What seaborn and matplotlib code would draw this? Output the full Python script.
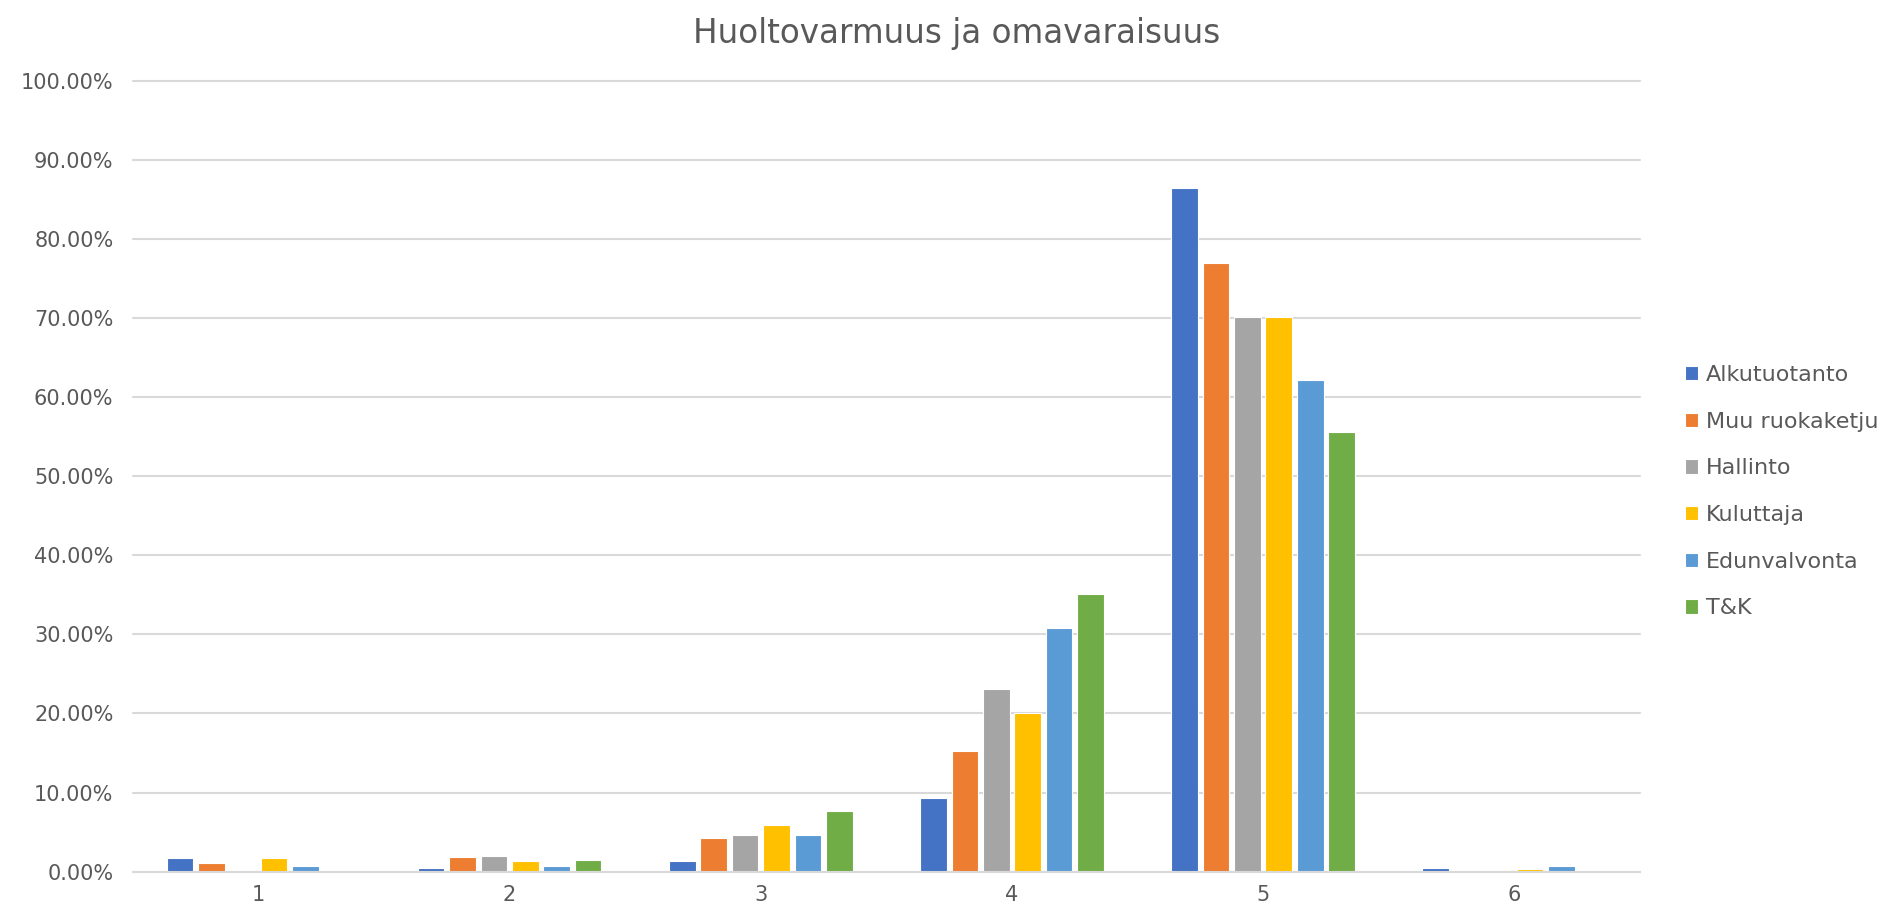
import numpy as np
import pandas as pd
import matplotlib
matplotlib.use("Agg")
import matplotlib.pyplot as plt
import seaborn as sns

categories = ["1", "2", "3", "4", "5", "6"]
series = ["Alkutuotanto", "Muu ruokaketju", "Hallinto", "Kuluttaja", "Edunvalvonta", "T&K"]

alkutuotanto = [0.017, 0.004, 0.014, 0.093, 0.864, 0.004]
muu_ruokaketju = [0.011, 0.018, 0.043, 0.152, 0.770, 0.002]
hallinto = [0.0, 0.020, 0.046, 0.231, 0.701, 0.0]
kuluttaja = [0.017, 0.014, 0.059, 0.201, 0.701, 0.003]
edunvalvonta = [0.007, 0.007, 0.046, 0.308, 0.622, 0.007]
tk = [0.0, 0.015, 0.076, 0.351, 0.556, 0.0]

colors = ["#4472C4", "#ED7D31", "#A5A5A5", "#FFC000", "#5B9BD5", "#70AD47"]
grey = "#595959"

values = [alkutuotanto, muu_ruokaketju, hallinto, kuluttaja, edunvalvonta, tk]
rows = []
for name, vals in zip(series, values):
    for c, v in zip(categories, vals):
        rows.append({"cat": c, "series": name, "value": v})
df = pd.DataFrame(rows)

sns.set_style("white")
plt.rcParams["font.family"] = ["DejaVu Sans"]

fig = plt.figure(figsize=(18.98, 9.19), dpi=100)
ax = fig.add_axes([0.070, 0.0516, 0.794, 0.8604])

sns.barplot(data=df, x="cat", y="value", hue="series", hue_order=series,
            order=categories, palette=colors, saturation=1, width=0.75, gap=0.15,
            edgecolor="white", linewidth=0.8, ax=ax, legend=True)

ax.set_ylim(0, 1.0)
ax.set_xlim(-0.5, 5.5)
ax.set_yticks(np.arange(0, 1.01, 0.1))
ax.set_yticklabels([f"{t:.2%}" for t in np.arange(0, 1.01, 0.1)])
ax.yaxis.grid(True, color="#D9D9D9", linewidth=1.5, clip_on=False)
ax.set_axisbelow(True)
for s in ["top", "right", "left"]:
    ax.spines[s].set_visible(False)
ax.spines["bottom"].set_color("#D9D9D9")
ax.spines["bottom"].set_linewidth(1.5)
ax.tick_params(axis="both", length=0, colors=grey, labelsize=15)
ax.tick_params(axis="y", pad=14)
ax.tick_params(axis="x", pad=10)
ax.set_xlabel("")
ax.set_ylabel("")

fig.suptitle("Huoltovarmuus ja omavaraisuus", x=0.504, y=0.982, fontsize=23.5, color=grey)

handles, labels = ax.get_legend_handles_labels()
ax.legend_.remove()
leg = fig.legend(handles, labels, loc="center left", bbox_to_anchor=(0.877, 0.465),
                 frameon=False, fontsize=16, handlelength=0.6, handleheight=0.6,
                 handletextpad=0.35, labelspacing=1.2)
for t in leg.get_texts():
    t.set_color(grey)

fig.savefig("out.png", dpi=100)
